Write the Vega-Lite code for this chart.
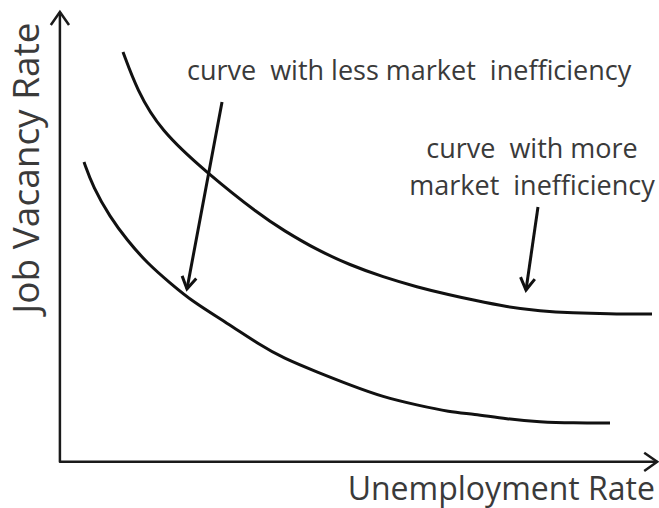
{
  "$schema": "https://vega.github.io/schema/vega-lite/v6.json",
  "width": 659,
  "height": 508,
  "autosize": "none",
  "padding": 0,
  "background": "white",
  "config": {"view": {"stroke": null}},
  "encoding": {
    "x": {"field": "u", "type": "quantitative", "scale": {"domain": [-1, 10], "nice": false, "zero": false}, "axis": null},
    "y": {"field": "v", "type": "quantitative", "scale": {"domain": [-1, 10], "nice": false, "zero": false}, "axis": null}
  },
  "layer": [
    {
      "data": {"values": [
        {"o": 0, "u": 0, "v": 9.74},
        {"o": 1, "u": 0, "v": 0},
        {"o": 2, "u": 9.97, "v": 0}
      ]},
      "mark": {"type": "line", "color": "#1a1a1a", "strokeWidth": 2.5, "strokeJoin": "round"},
      "encoding": {"order": {"field": "o", "type": "quantitative"}}
    },
    {
      "data": {"values": [
        {"curve": "more", "u": 1.053, "v": 8.874},
        {"curve": "more", "u": 1.287, "v": 8.051},
        {"curve": "more", "u": 1.671, "v": 7.185},
        {"curve": "more", "u": 2.455, "v": 6.254},
        {"curve": "more", "u": 3.340, "v": 5.344},
        {"curve": "more", "u": 3.724, "v": 5.019},
        {"curve": "more", "u": 4.291, "v": 4.586},
        {"curve": "more", "u": 4.842, "v": 4.262},
        {"curve": "more", "u": 5.393, "v": 4.002},
        {"curve": "more", "u": 5.960, "v": 3.785},
        {"curve": "more", "u": 6.511, "v": 3.612},
        {"curve": "more", "u": 6.895, "v": 3.504},
        {"curve": "more", "u": 7.463, "v": 3.352},
        {"curve": "more", "u": 8.014, "v": 3.266},
        {"curve": "more", "u": 8.564, "v": 3.222},
        {"curve": "more", "u": 9.132, "v": 3.201},
        {"curve": "more", "u": 9.883, "v": 3.201},
        {"curve": "less", "u": 0.402, "v": 6.492},
        {"curve": "less", "u": 0.552, "v": 5.951},
        {"curve": "less", "u": 0.836, "v": 5.301},
        {"curve": "less", "u": 1.120, "v": 4.803},
        {"curve": "less", "u": 1.454, "v": 4.305},
        {"curve": "less", "u": 1.838, "v": 3.872},
        {"curve": "less", "u": 2.222, "v": 3.460},
        {"curve": "less", "u": 2.789, "v": 3.006},
        {"curve": "less", "u": 3.340, "v": 2.529},
        {"curve": "less", "u": 3.724, "v": 2.248},
        {"curve": "less", "u": 4.291, "v": 1.945},
        {"curve": "less", "u": 4.842, "v": 1.663},
        {"curve": "less", "u": 5.393, "v": 1.403},
        {"curve": "less", "u": 5.960, "v": 1.230},
        {"curve": "less", "u": 6.511, "v": 1.078},
        {"curve": "less", "u": 6.895, "v": 1.035},
        {"curve": "less", "u": 7.463, "v": 0.927},
        {"curve": "less", "u": 8.014, "v": 0.862},
        {"curve": "less", "u": 8.564, "v": 0.840},
        {"curve": "less", "u": 9.182, "v": 0.840}
      ]},
      "mark": {"type": "line", "color": "#111111", "strokeWidth": 3, "interpolate": "basis"},
      "encoding": {"detail": {"field": "curve", "type": "nominal"}}
    },
    {
      "data": {"values": [
        {"arrow": "a1", "u": 2.706, "v": 7.791},
        {"arrow": "a1", "u": 2.121, "v": 3.742},
        {"arrow": "a2", "u": 7.980, "v": 5.518},
        {"arrow": "a2", "u": 7.780, "v": 3.720}
      ]},
      "mark": {"type": "line", "color": "#111111", "strokeWidth": 3},
      "encoding": {"detail": {"field": "arrow", "type": "nominal"}}
    },
    {
      "data": {"values": [{"u": 0, "v": 9.74}]},
      "mark": {"type": "point", "shape": "M -0.7 1 L 0 0 L 0.7 1", "size": 676, "filled": false, "stroke": "#1a1a1a", "strokeWidth": 2.5, "opacity": 1, "angle": 0}
    },
    {
      "data": {"values": [{"u": 9.97, "v": 0}]},
      "mark": {"type": "point", "shape": "M -0.7 1 L 0 0 L 0.7 1", "size": 676, "filled": false, "stroke": "#1a1a1a", "strokeWidth": 2.5, "opacity": 1, "angle": 90}
    },
    {
      "data": {"values": [{"u": 2.121, "v": 3.742}]},
      "mark": {"type": "point", "shape": "M -0.6 1 L 0 0 L 0.6 1", "size": 576, "filled": false, "stroke": "#111111", "strokeWidth": 3, "opacity": 1, "angle": 190.6}
    },
    {
      "data": {"values": [{"u": 7.780, "v": 3.720}]},
      "mark": {"type": "point", "shape": "M -0.6 1 L 0 0 L 0.6 1", "size": 576, "filled": false, "stroke": "#111111", "strokeWidth": 3, "opacity": 1, "angle": 188}
    },
    {
      "data": {"values": [{"label": "curve\u00a0 with less market\u00a0 inefficiency", "u": 2.121, "v": 8.268}]},
      "mark": {"type": "text", "font": "Open Sans", "fontSize": 27, "align": "left", "baseline": "alphabetic", "color": "#3a3a3a"},
      "encoding": {"text": {"field": "label"}}
    },
    {
      "data": {"values": [
        {"label": "curve\u00a0 with more", "u": 7.880, "v": 6.579},
        {"label": "market\u00a0 inefficiency", "u": 7.880, "v": 5.777}
      ]},
      "mark": {"type": "text", "font": "Open Sans", "fontSize": 27, "align": "center", "baseline": "alphabetic", "color": "#3a3a3a"},
      "encoding": {"text": {"field": "label"}}
    },
    {
      "data": {"values": [{"label": "Unemployment Rate", "u": 9.933, "v": -0.827}]},
      "mark": {"type": "text", "font": "Open Sans", "fontSize": 32, "align": "right", "baseline": "alphabetic", "color": "#3a3a3a"},
      "encoding": {"text": {"field": "label"}}
    },
    {
      "data": {"values": [{"label": "Job Vacancy Rate", "u": -0.349, "v": 6.362}]},
      "mark": {"type": "text", "font": "Open Sans", "fontSize": 37, "align": "center", "baseline": "alphabetic", "angle": 270, "color": "#3a3a3a"},
      "encoding": {"text": {"field": "label"}}
    }
  ]
}
